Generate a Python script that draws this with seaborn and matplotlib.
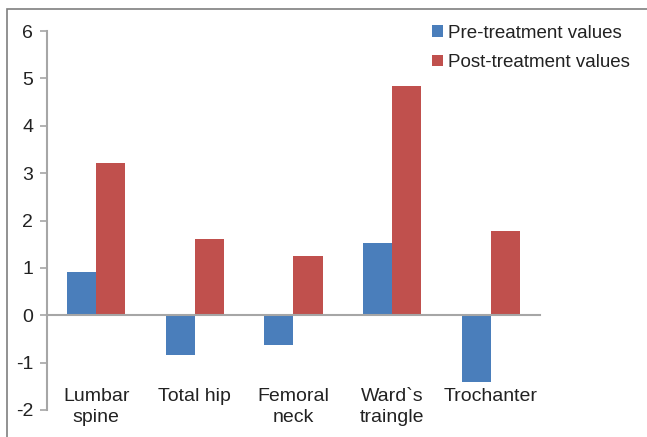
import matplotlib
matplotlib.use("Agg")
import matplotlib.pyplot as plt
import seaborn as sns
import pandas as pd
from matplotlib.patches import Rectangle

# data
categories = ["Lumbar\nspine", "Total hip", "Femoral\nneck", "Ward`s\ntraingle", "Trochanter"]
pre_values = [0.91, -0.84, -0.63, 1.52, -1.40]
post_values = [3.21, 1.60, 1.25, 4.84, 1.78]
series_names = ["Pre-treatment values", "Post-treatment values"]
y_ticks = [-2, -1, 0, 1, 2, 3, 4, 5, 6]

df = pd.DataFrame({
    "site": categories * 2,
    "value": pre_values + post_values,
    "series": [series_names[0]] * len(categories) + [series_names[1]] * len(categories),
})

sns.set_style("white")
plt.rcParams["font.family"] = ["Liberation Sans", "DejaVu Sans"]

fig = plt.figure(figsize=(6.47, 4.37), dpi=100)
ax = fig.add_axes([0.0726, 0.0618, 0.762, 0.8672])

palette = {series_names[0]: "#4A7EBB", series_names[1]: "#C0504D"}
sns.barplot(data=df, x="site", y="value", hue="series", palette=palette,
            width=0.59, gap=0, saturation=1, linewidth=0, ax=ax, legend=True)

ax.set_xlim(-0.5, len(categories) - 0.5)
ax.set_ylim(-2, 6)
ax.set_yticks(y_ticks)
ax.set_yticklabels([str(t) for t in y_ticks], fontsize=14, color="#222222")
ax.tick_params(axis="y", direction="out", length=5, width=1.2, color="#A6A6A6",
               left=True, pad=5)
ax.set_xticks([])
ax.set_xlabel("")
ax.set_ylabel("")

for side in ["top", "right"]:
    ax.spines[side].set_visible(False)
ax.spines["left"].set_color("#A6A6A6")
ax.spines["left"].set_linewidth(1.5)
ax.spines["bottom"].set_position(("data", 0))
ax.spines["bottom"].set_color("#A6A6A6")
ax.spines["bottom"].set_linewidth(1.5)
ax.spines["bottom"].set_zorder(5)

for i, lab in enumerate(categories):
    ax.text(i, -1.53, lab, ha="center", va="top", fontsize=14,
            color="#222222", linespacing=1.35, clip_on=False)

leg = ax.legend(loc="upper right", bbox_to_anchor=(1.0, 0.982),
                bbox_transform=fig.transFigure, frameon=False, fontsize=13.5,
                handlelength=0.55, handleheight=0.55, handletextpad=0.3,
                labelspacing=0.65)
for t in leg.get_texts():
    t.set_color("#222222")

# outer frame of the chart area
fig.patches.append(Rectangle((7 / 647, -0.05), 1.1, 1 - 9 / 437 + 0.05,
                             transform=fig.transFigure, fill=False,
                             edgecolor="#7F7F7F", linewidth=1.2))

fig.savefig("out.png", dpi=100)
